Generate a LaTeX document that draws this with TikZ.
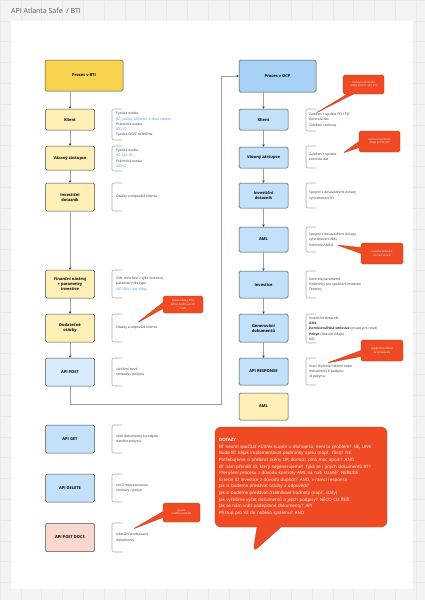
\documentclass[tikz,border=0pt]{standalone}
\usepackage{fontspec}
\setmainfont{Open Sans}
\usetikzlibrary{arrows.meta,shapes.callouts}

\definecolor{gridbg}{HTML}{F3F3F3}
\definecolor{gridln}{HTML}{E8E8E8}
\definecolor{boxline}{HTML}{4A4A4A}
\definecolor{gold}{HTML}{F8D34E}
\definecolor{paleyellow}{HTML}{FEF0B7}
\definecolor{ocpblue}{HTML}{A7D2F6}
\definecolor{lightblue}{HTML}{C4E1FB}
\definecolor{paleblue}{HTML}{D9ECFC}
\definecolor{palepink}{HTML}{FAD8D0}
\definecolor{alertred}{HTML}{F04A25}
\definecolor{linkblue}{HTML}{2F8FE8}
\definecolor{notetext}{HTML}{333333}

\begin{document}
\begin{tikzpicture}[x=1pt,y=-1pt,
  box/.style={draw=boxline,line width=0.5pt,rounded corners=1.5pt,align=center,
    inner sep=1pt,font=\fontsize{4}{5}\selectfont\bfseries,
    minimum width=49pt,minimum height=28pt},
  arr/.style={draw=gray!75,line width=0.6pt,-{Stealth[length=2.4pt,width=2.4pt,black!80]}},
  brak/.style={draw=gray!65,line width=0.6pt,rounded corners=2pt},
  note/.style={anchor=west,align=left,inner sep=0pt,text=notetext,
    font=\fontsize{3.4}{5.3}\selectfont},
  alert/.style={rectangle callout,fill=alertred,draw=alertred!80!black,line width=0.3pt,
    rounded corners=1.5pt,text=white,align=center,inner sep=1pt,
    font=\fontsize{2.6}{3.6}\selectfont,callout pointer width=6pt}
]
  \useasboundingbox (0,0) rectangle (425,600);

  % board
  \fill[gridbg] (0,0) rectangle (425,600);
  \draw[gridln,line width=0.4pt,step=20.8pt] (0,0) grid (425,600);
  \fill[white] (11,21) rectangle (413,589);
  \node[anchor=west,inner sep=0pt,text=black!65,font=\fontsize{7}{8}\selectfont]
    (title) at (11,11) {API Atlanta Safe\ \ / BTI};

  % BTI column
  \node[box,fill=gold,minimum width=78pt,minimum height=31pt] (bti) at (84,75.5) {Proces v BTI};
  \node[box,fill=paleyellow,minimum height=21pt] (klient) at (70,119.5) {Klient};
  \node[box,fill=paleyellow,minimum height=24pt] (vz) at (70,158) {Vázaný zástupce};
  \node[box,fill=paleyellow] (invdot) at (70,197) {Investiční\\dotazník};
  \node[box,fill=paleyellow] (fin) at (70,284) {Finanční nástroj\\+ parametry\\investice};
  \node[box,fill=paleyellow] (dod) at (70,328) {Dodatečné\\otázky};
  \node[box,fill=paleblue] (apipost) at (70,372) {API POST};
  \node[box,fill=lightblue] (apiget) at (70,439) {API GET};
  \node[box,fill=lightblue] (apidel) at (70,488) {API DELETE};
  \node[box,fill=palepink] (apidocs) at (70,537.5) {API POST DOCS};

  % OCP column
  \node[box,fill=ocpblue,minimum width=77pt,minimum height=32pt] (ocp) at (277.5,76) {Proces v OCP};
  \node[box,fill=lightblue,minimum height=21pt] (klient2) at (263.5,119.5) {Klient};
  \node[box,fill=lightblue,minimum height=21pt] (vz2) at (263.5,157.5) {Vázaný zástupce};
  \node[box,fill=lightblue,minimum height=25pt] (invdot2) at (263.5,195.5) {Investiční\\dotazník};
  \node[box,fill=lightblue,minimum height=25pt] (aml) at (263.5,239.5) {AML};
  \node[box,fill=lightblue,minimum height=27pt] (investice) at (263.5,284.5) {Investice};
  \node[box,fill=lightblue] (gen) at (263.5,328) {Generování\\dokumentů};
  \node[box,fill=lightblue,minimum height=27pt] (apiresp) at (263.5,371.5) {API RESPONSE};
  \node[box,fill=paleyellow,minimum height=27pt] (aml2) at (263.5,406.5) {AML};

  % connectors
  \draw[arr] (bti.south -| klient.north) -- (klient.north);
  \foreach \a/\b in {klient/vz,vz/invdot,invdot/fin,fin/dod,dod/apipost}
    \draw[arr] (\a.south) -- (\b.north);
  \draw[arr] (ocp.south -| klient2.north) -- (klient2.north);
  \foreach \a/\b in {klient2/vz2,vz2/invdot2,invdot2/aml,aml/investice,investice/gen,gen/apiresp}
    \draw[arr] (\a.south) -- (\b.north);
  \coordinate (turn) at (221,404);
  \draw[arr] (apipost.south) |- (turn) |- (ocp.west);

  % brackets
  \foreach \x/\a/\b in {112/109/140,112/146/171,112/183/211,112/270/298,112/314/342,
      112/358/386,112/425/453,112/474/502,112/523/552,
      306/109/131,306/146/168,306/183/208,306/227/252,306/271/298,306/314/343,306/358/385}
    \draw[brak] (\x+10,\a) -- (\x,\a) -- (\x,\b) -- (\x+10,\b);

  % notes BTI
  \node[note] (nklient) at (116,124.5) {Fyzická osoba\\\textcolor{linkblue}{RČ, jméno, příjmení, e-mail, telefon}\\Právnická osoba\\\textcolor{linkblue}{IČO, IČ}\\Fyzická OSVČ neřešíme};
  \node[note] (nvz) at (116,158.5) {Fyzická osoba\\\textcolor{linkblue}{RČ, čísl. ID}\\Právnická osoba\\\textcolor{linkblue}{IČO, IČ}};
  \node[note] (ninvdot) at (116,197) {Otázky a odpovědi klienta};
  \node[note] (nfin) at (116,284) {ISIN, množství / výše investice,\\parametry dle typu\\\textcolor{linkblue}{AIF, ISIN / jiné ISINy}};
  \node[note] (ndod) at (116,328) {Otázky a odpovědi klienta};
  \node[note] (napipost) at (116,372) {založení nové\\smlouvy / pokynu};
  \node[note] (napiget) at (116,439) {vrátí dokumenty k podpisu\\daného pokynu};
  \node[note] (napidel) at (116,488) {zruší rozpracovanou\\smlouvy / pokyn};
  \node[note] (napidocs) at (116,537.5) {odeslání podepsané\\dokumenty};

  % notes OCP
  \node[note] (nklient2) at (309,120) {Založení / update FO / PO\\Kontrola dat\\Založení smlouvy};
  \node[note] (nvz2) at (309,157) {Založení / update\\kontrola dat};
  \node[note] (ninvdot2) at (309,195.5) {Spojení s dosavadními dotazy\\vyhodnocení ID};
  \node[note] (naml) at (309,239.5) {Spojení s dosavadními dotazy\\vyhodnocení AML\\Kontrola AMLO};
  \node[note] (ninvestice) at (309,284.5) {Kontrola parametrů\\Podmínky pro spočítání investice\\Termíny};
  \node[note] (ngen) at (309,328.5) {Investiční dotazník\\\textbf{AML}\\\textbf{Komisionářská smlouva} (pouze pro nové)\\\textbf{Pokyn} (obecné údaje)\\KID};
  \node[note] (napiresp) at (309,371.5) {Vrací chybové hlášení nebo\\dokumenty k podpisu\\id pokynu};

  % alerts
  \node[alert,minimum width=41pt,minimum height=19pt,callout absolute pointer={(316,113)}]
    (alklient) at (363.5,84.5) {stanovit minimální\\údaje pro FO i pro PO};
  \node[alert,minimum width=41pt,minimum height=21pt,callout absolute pointer={(343,153)}]
    (alvz) at (379.5,141.5) {stanovit minimální\\údaje pro VZ i PZ};
  \node[alert,minimum width=42pt,minimum height=21pt,callout absolute pointer={(337,245)}]
    (alaml) at (382,253.5) {musíme dohledat\\na naší straně};
  \node[alert,minimum width=40pt,minimum height=17pt,callout absolute pointer={(137,323)}]
    (aldod) at (183,304.5) {Avšak otázky, BT a\\přímá hodnocení ID\\v AML};
  \node[alert,minimum width=42pt,minimum height=21pt,callout absolute pointer={(327,363)}]
    (alresp) at (382,350.5) {nějaký list podpisů\\ke zpracování};
  \node[alert,minimum width=37pt,minimum height=19pt,callout absolute pointer={(133,529)}]
    (aldocs) at (181.5,512.5) {spustit\\ověření podpisů};

  \node[alert,rounded corners=6pt,minimum width=172pt,minimum height=100pt,
    text width=164pt,align=left,inner sep=4pt,callout pointer width=24pt,
    font=\fontsize{4.4}{6.6}\selectfont,callout absolute pointer={(253,552)}]
    (dotazy) at (301,477) {\textbf{DOTAZY}\\
    BT neumí spočítat AÚV/ex-kupón u dluhopisů, není to problém? NE, LINK\\
    Bude BT nějak implementovat podmínky úpisu (např. část)? NE\\
    Potřebujeme si přebírat skeny OP, domicil, plná moc apod.? ANO\\
    BT nám přenáší ID, který negenerujeme? Týká se i jiných dokumentů BT?\\
    Přerušení procesu z důvodu kontroly AML na naší straně? NEBUDE\\
    Externí ID investice z důvodů duplicit? ANO, v rámci response\\
    Jak si budeme předávat otázky a odpovědi?\\
    Jak si budeme předávat číselníkové hodnoty (např. státy)\\
    Jak vyřešíme výčet dokumentů a jejich podpisy? NĚCO CO ŘEŠÍ\\
    Jak se nám vrátí podepsané dokumenty? API\\
    Přístup pro VZ do našeho systému? ANO};
\end{tikzpicture}
\end{document}
